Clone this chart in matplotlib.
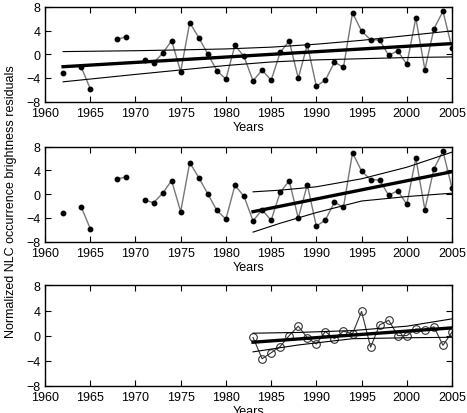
import numpy as np
import matplotlib
matplotlib.use("Agg")
import matplotlib.pyplot as plt

plt.rcParams['font.family'] = ['Liberation Sans', 'DejaVu Sans']
plt.rcParams['font.size'] = 9

# NLC residuals, full record (gaps where no data)
years = [1962, 1964, 1965, 1968, 1969] + list(range(1971, 2006))
resid = [-3.2, -2.15, -5.8, 2.55, 2.95,
         -0.95, -1.45, 0.15, 2.3, -2.95, 5.35, 2.8, 0.05, -2.75, -4.2,
         1.5, -0.35, -4.5, -2.65, -4.4, 0.3, 2.25, -4.05, 1.6, -5.4,
         -4.35, -1.35, -2.2, 7.0, 3.9, 2.45, 2.4, -0.2, 0.6, -1.7,
         6.1, -2.6, 4.3, 7.25, 1.05]

# second series 1983-2005
years3 = list(range(1983, 2006))
resid3 = [-0.3, -3.7, -2.75, -1.75, 0.0, 1.5, -0.35, -1.35, 0.65, -0.5,
          0.7, 0.3, 3.85, -1.85, 1.7, 2.45, 0.0, 0.0, 1.05, 0.95,
          1.4, -1.55, 0.55]

# trend lines (end points) and confidence bands
fit1_x = [1962, 2005]
fit1_y = [-2.1, 1.8]
band1_x = [1962, 1970, 1975, 1980, 1985, 1990, 1995, 2000, 2005]
band1_up = [0.45, 0.6, 0.74, 0.9, 1.2, 1.7, 2.35, 3.15, 3.95]
band1_lo = [-4.65, -3.4, -2.65, -1.9, -1.3, -0.95, -0.75, -0.55, -0.45]

fit2_x = [1983, 2005]
fit2_y = [-2.95, 3.8]
band2_x = [1983, 1986, 1990, 1995, 2000, 2005]
band2_up = [0.4, 0.68, 1.25, 2.6, 4.55, 7.1]
band2_lo = [-6.4, -4.9, -3.1, -1.15, -0.4, 0.17]

fit3_x = [1983, 2005]
fit3_y = [-1.06, 1.23]
band3_x = [1983, 1988, 1994, 2000, 2005]
band3_up = [0.38, 0.5, 0.8, 1.5, 2.67]
band3_lo = [-2.6, -1.5, -0.5, -0.35, -0.27]

xticks = list(range(1960, 2006, 5))
yticks = [-8, -4, 0, 4, 8]


def segments(x, y):
    # split into runs of consecutive years
    runs = []
    cur_x, cur_y = [x[0]], [y[0]]
    for a, b in zip(x[1:], y[1:]):
        if a - cur_x[-1] == 1:
            cur_x.append(a)
            cur_y.append(b)
        else:
            runs.append((cur_x, cur_y))
            cur_x, cur_y = [a], [b]
    runs.append((cur_x, cur_y))
    return runs


def style(ax):
    ax.set_xlim(1960, 2005)
    ax.set_ylim(-8, 8)
    ax.set_xticks(xticks)
    ax.set_yticks(yticks)
    ax.tick_params(direction='in', top=True, right=True, length=4, width=0.8)
    ax.tick_params(axis='x', pad=4)
    ax.tick_params(axis='y', pad=3)
    for s in ax.spines.values():
        s.set_linewidth(1.0)
    ax.set_xlabel('Years', labelpad=1)


fig = plt.figure(figsize=(4.67, 4.14), dpi=100)
ax1 = fig.add_axes([0.0964, 0.752, 0.8715, 0.229])
ax2 = fig.add_axes([0.0964, 0.414, 0.8715, 0.229])
ax3 = fig.add_axes([0.0964, 0.066, 0.8715, 0.242])

for ax in (ax1, ax2):
    for sx, sy in segments(years, resid):
        ax.plot(sx, sy, color='#777777', lw=1.0, zorder=2)
    ax.plot(years, resid, 'o', color='black', ms=3.2, ls='none', zorder=3)

ax1.plot(fit1_x, fit1_y, color='black', lw=2.4, zorder=4)
ax1.plot(band1_x, band1_up, color='black', lw=0.8, zorder=4)
ax1.plot(band1_x, band1_lo, color='black', lw=0.8, zorder=4)

ax2.plot(fit2_x, fit2_y, color='black', lw=2.4, zorder=4)
ax2.plot(band2_x, band2_up, color='black', lw=0.8, zorder=4)
ax2.plot(band2_x, band2_lo, color='black', lw=0.8, zorder=4)

ax3.plot(years3, resid3, color='#333333', lw=0.8, marker='o', ms=5.5,
         mfc='none', mec='#333333', mew=0.8, zorder=3)
ax3.plot(fit3_x, fit3_y, color='black', lw=2.4, zorder=4)
ax3.plot(band3_x, band3_up, color='black', lw=0.8, zorder=4)
ax3.plot(band3_x, band3_lo, color='black', lw=0.8, zorder=4)

for ax in (ax1, ax2, ax3):
    style(ax)

fig.text(0.024, 0.514, 'Normalized NLC occurrence brightness residuals',
         rotation=90, ha='center', va='center', fontsize=9)

fig.savefig('out.png', dpi=100)
